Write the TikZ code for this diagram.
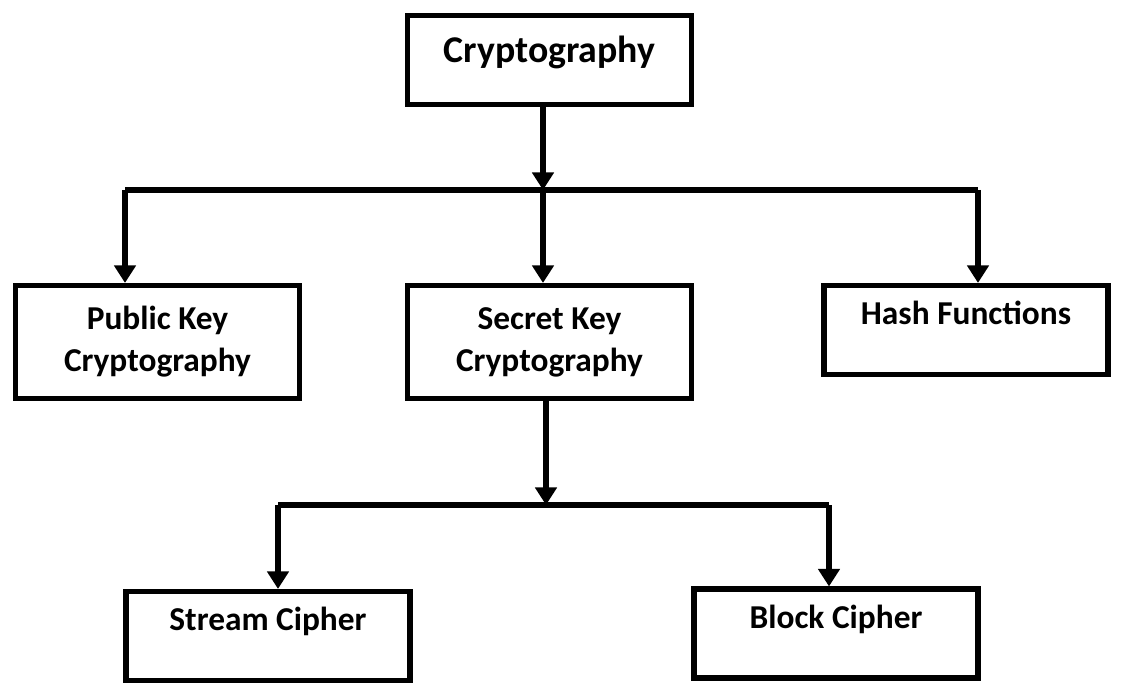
\documentclass[tikz,border=0pt]{standalone}
\usepackage{fontspec}
\setmainfont{Carlito}
\usetikzlibrary{positioning, arrows.meta}

\begin{document}
\begin{tikzpicture}[x=0.02cm,y=-0.02cm,>={Triangle[length=10pt,width=12pt]},
  box/.style={draw,line width=2.9pt,minimum width=5.68cm,align=center,
    font=\fontsize{19}{24}\selectfont\bfseries},
  tallbox/.style={box,minimum height=2.26cm},
  flatbox/.style={box,minimum height=1.78cm,text height=14pt,text depth=20pt},
  link/.style={line width=2.9pt},
  arr/.style={link,->}]
  \useasboundingbox (0,0) rectangle (1130,686);
  % boxes
  \node[flatbox,font=\fontsize{21.5}{24}\selectfont\bfseries,text height=15pt,text depth=12.5pt](crypto) at (549.5,60){Cryptography};
  \node[tallbox](pub) at (157.5,342){Public Key\\Cryptography};
  \node[tallbox](sec) at (549.5,342){Secret Key\\Cryptography};
  \node[flatbox](hash) at (966,330){Hash Functions};
  \node[flatbox](stream) at (268,636){Stream Cipher};
  \node[flatbox](block) at (836,633.5){Block Cipher};
  % first split
  \coordinate (barAl) at (125,190);
  \coordinate (barAm) at (543,190);
  \coordinate (barAr) at (978,190);
  \draw[arr](crypto.south -| barAm)--(barAm);
  \draw[link](barAl)--(barAr);
  \draw[arr](barAl)--(barAl |- pub.north);
  \draw[arr](barAm)--(barAm |- sec.north);
  \draw[arr](barAr)--(barAr |- hash.north);
  % second split
  \coordinate (barBl) at (278,505);
  \coordinate (barBm) at (546,505);
  \coordinate (barBr) at (829,505);
  \draw[arr](sec.south -| barBm)--(barBm);
  \draw[link](barBl)--(barBr);
  \draw[arr](barBl)--(barBl |- stream.north);
  \draw[arr](barBr)--(barBr |- block.north);
\end{tikzpicture}
\end{document}
